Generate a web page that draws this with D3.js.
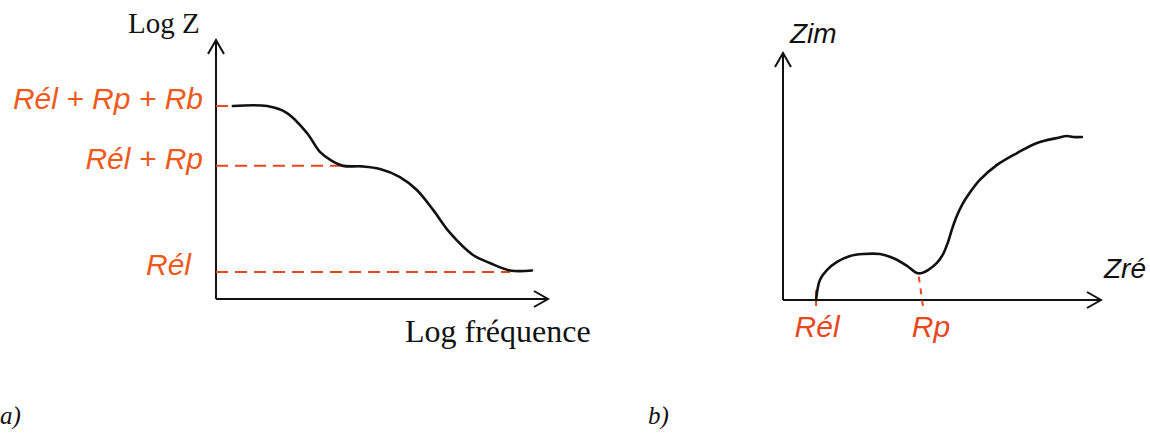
<!DOCTYPE html>
<html>
<head>
    <meta charset="utf-8">
    <title>Impédance : Bode et Nyquist</title>
    <script src="https://d3js.org/d3.v7.min.js"></script>
    <style>
        body { margin: 0; background: #fff; }
        .axis-line { stroke: #111; stroke-width: 2; fill: none; }
        .curve { stroke: #111; stroke-width: 2.6; fill: none; stroke-linejoin: round; stroke-linecap: round; }
        .guide { stroke: #e8461e; stroke-width: 2; fill: none; }
        .serif { font-family: "Liberation Serif", "Times New Roman", serif; fill: #111; }
        .sans { font-family: "Liberation Sans", Arial, sans-serif; font-style: italic; }
        .level { fill: #ee5a1c; font-size: 30px; }
    </style>
</head>
<body>
<div id="chart"></div>
<script>
    // Diagramme a) : log Z en fonction de log f (unités arbitraires 0-100)
    const bodeX = [5.1, 15.4, 21.4, 27.4, 31.3, 34.9, 38.3, 44.0, 49.4, 55.4, 60.5, 65.4, 70.5, 77.4, 82.5, 88.6, 95.2];
    const bodeY = [74.5, 74.5, 71.8, 64.1, 56.8, 53.3, 51.4, 51.2, 50.2, 47.1, 42.1, 34.4, 25.5, 17.0, 13.9, 11.0, 11.0];

    // paliers et leur abscisse de raccord sur la courbe
    const levelNames = ["Rél", "Rél + Rp", "Rél + Rp + Rb"];
    const levelValues = [10.4, 51.4, 74.5];
    const levelEndsX = [88.6, 38.3, 5.1];

    // Diagramme b) : Nyquist, Zim en fonction de Zré
    const nyqX = [10.4, 11.6, 13.8, 17.0, 21.1, 25.2, 30.5, 34.6, 39.0, 42.1, 43.7, 45.6, 48.4, 50.3, 51.9, 53.1, 54.5, 56.3, 58.5, 61.9, 67.3, 73.6, 79.9, 86.2, 89.3, 91.2, 94.0];
    const nyqY = [0.0, 8.1, 12.1, 15.4, 17.8, 18.6, 18.6, 17.0, 13.8, 10.9, 10.9, 12.1, 15.0, 18.5, 23.5, 28.5, 33.5, 38.5, 43.0, 48.6, 54.7, 59.5, 63.6, 65.6, 66.4, 66.0, 66.0];

    const markNames = ["Rél", "Rp"];
    const markValues = [10.4, 44.0];

    const svg = d3.select("#chart").append("svg")
        .attr("width", 1150)
        .attr("height", 433);

    // flèche ouverte
    svg.append("defs").append("marker")
        .attr("id", "arrow")
        .attr("markerUnits", "userSpaceOnUse")
        .attr("markerWidth", 20).attr("markerHeight", 20)
        .attr("viewBox", "-16 -10 18 20")
        .attr("refX", 0).attr("refY", 0)
        .attr("orient", "auto")
        .append("path")
        .attr("d", "M-14,-8L0,0L-14,8")
        .attr("fill", "none")
        .attr("stroke", "#111")
        .attr("stroke-width", 2);

    // ---- a) ----
    const xa = d3.scaleLinear().domain([0, 100]).range([216, 548]),
        ya = d3.scaleLinear().domain([0, 100]).range([299, 40]);

    svg.append("line").attr("class", "axis-line")
        .attr("x1", xa(0)).attr("y1", ya(0)).attr("x2", xa(0)).attr("y2", ya(100))
        .attr("marker-end", "url(#arrow)");
    svg.append("line").attr("class", "axis-line")
        .attr("x1", xa(0)).attr("y1", ya(0)).attr("x2", xa(100)).attr("y2", ya(0))
        .attr("marker-end", "url(#arrow)");

    svg.selectAll(".level-line")
        .data(levelValues)
        .enter().append("line")
        .attr("class", "guide level-line")
        .attr("stroke-dasharray", "12,7")
        .attr("x1", xa(0)).attr("x2", (d, i) => xa(levelEndsX[i]))
        .attr("y1", d => ya(d)).attr("y2", d => ya(d));

    const bodeLine = d3.line()
        .x(d => xa(d[0]))
        .y(d => ya(d[1]))
        .curve(d3.curveCatmullRom);

    svg.append("path")
        .attr("class", "curve")
        .attr("d", bodeLine(d3.zip(bodeX, bodeY)));

    svg.selectAll(".level-label")
        .data(levelNames)
        .enter().append("text")
        .attr("class", "sans level level-label")
        .attr("text-anchor", "end")
        .attr("x", (d, i) => i === 0 ? 191 : 203)
        .attr("y", (d, i) => ya(levelValues[i]) + 3)
        .text(d => d);

    svg.append("text").attr("class", "serif")
        .attr("x", 128).attr("y", 33)
        .style("font-size", "29px")
        .text("Log Z");

    svg.append("text").attr("class", "serif")
        .attr("x", 405).attr("y", 342)
        .style("font-size", "32px")
        .text("Log fréquence");

    svg.append("text").attr("class", "serif")
        .attr("x", 0).attr("y", 424)
        .style("font-size", "25px").style("font-style", "italic")
        .text("a)");

    // ---- b) ----
    const xb = d3.scaleLinear().domain([0, 100]).range([783, 1101]),
        yb = d3.scaleLinear().domain([0, 100]).range([300, 53]);

    svg.append("line").attr("class", "axis-line")
        .attr("x1", xb(0)).attr("y1", yb(0)).attr("x2", xb(0)).attr("y2", yb(100))
        .attr("marker-end", "url(#arrow)");
    svg.append("line").attr("class", "axis-line")
        .attr("x1", xb(0)).attr("y1", yb(0)).attr("x2", xb(100)).attr("y2", yb(0))
        .attr("marker-end", "url(#arrow)");

    // repères rouges sur l'axe réel
    svg.append("line").attr("class", "guide")
        .attr("x1", xb(markValues[0])).attr("x2", xb(markValues[0]))
        .attr("y1", yb(4)).attr("y2", yb(-2.4));
    svg.append("line").attr("class", "guide")
        .attr("stroke-dasharray", "6,6")
        .attr("x1", xb(markValues[1] - 1.3)).attr("x2", xb(markValues[1]))
        .attr("y1", yb(9.5)).attr("y2", yb(-2.4));

    const nyqLine = d3.line()
        .x(d => xb(d[0]))
        .y(d => yb(d[1]))
        .curve(d3.curveCatmullRom);

    svg.append("path")
        .attr("class", "curve")
        .attr("d", nyqLine(d3.zip(nyqX, nyqY)));

    svg.selectAll(".mark-label")
        .data(markNames)
        .enter().append("text")
        .attr("class", "sans level mark-label")
        .attr("text-anchor", "middle")
        .attr("x", (d, i) => xb(markValues[i]) + (i === 1 ? 8 : 1))
        .attr("y", 337)
        .style("fill", "#e8481e")
        .text(d => d);

    svg.append("text").attr("class", "sans")
        .attr("x", 790).attr("y", 43)
        .style("font-size", "28px").style("fill", "#111")
        .text("Zim");

    svg.append("text").attr("class", "sans")
        .attr("x", 1104).attr("y", 278)
        .style("font-size", "28px").style("fill", "#111")
        .text("Zré");

    svg.append("text").attr("class", "serif")
        .attr("x", 648).attr("y", 424)
        .style("font-size", "25px").style("font-style", "italic")
        .text("b)");
</script>
</body>
</html>
